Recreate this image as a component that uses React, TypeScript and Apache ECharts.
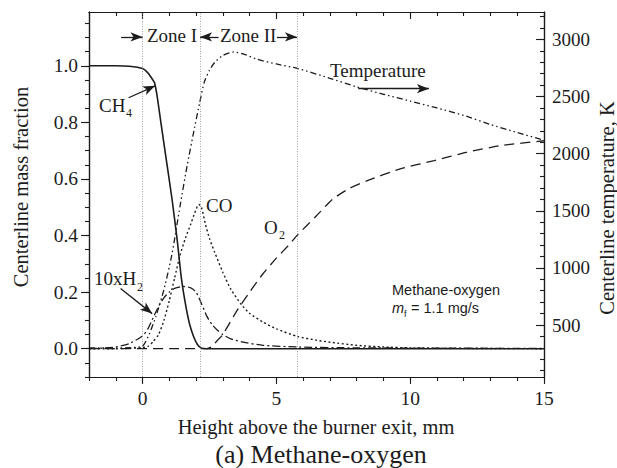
import React, { useEffect, useRef } from "react";
import * as echarts from "echarts";

// ---- axis ranges & ticks ----
const xRange = [-2, 15];
const leftRange = [-0.1, 1.19];
const rightRange = [45, 3240];
const xMajorTicks = [0, 5, 10, 15];
const xMinorTicks = [-2, -1, 0, 1, 2, 3, 4, 5, 6, 7, 8, 9, 10, 11, 12, 13, 14, 15];
const leftMajorTicks = [0, 0.2, 0.4, 0.6, 0.8, 1.0];
const leftMinorTicks = [-0.1, -0.05, 0, 0.05, 0.1, 0.15, 0.2, 0.25, 0.3, 0.35, 0.4, 0.45, 0.5, 0.55, 0.6, 0.65, 0.7, 0.75, 0.8, 0.85, 0.9, 0.95, 1.0, 1.05, 1.1, 1.15];
const rightMajorTicks = [500, 1000, 1500, 2000, 2500, 3000];
const rightMinorTicks = [100, 200, 300, 400, 500, 600, 700, 800, 900, 1000, 1100, 1200, 1300, 1400, 1500, 1600, 1700, 1800, 1900, 2000, 2100, 2200, 2300, 2400, 2500, 2600, 2700, 2800, 2900, 3000, 3100, 3200];

// ---- zone boundaries (mm) ----
const zoneLines = [0, 2.15, 5.77];

// ---- series: [height mm, value] ----
const ch4 = [
  [-2, 1], [-1, 1], [-0.5, 0.998], [0, 0.99], [0.2, 0.975], [0.35, 0.955], [0.45, 0.94], [0.55, 0.89],
  [0.7, 0.79], [0.9, 0.66], [1.1, 0.53], [1.3, 0.38], [1.45, 0.25], [1.6, 0.16], [1.75, 0.09],
  [1.9, 0.045], [2.05, 0.015], [2.2, 0.002], [2.4, 0], [15, 0],
];
const co = [
  [-2, 0], [-1, 0], [-0.5, 0.001], [0, 0.004], [0.2, 0.008], [0.4, 0.025], [0.6, 0.05], [0.8, 0.1],
  [1.0, 0.17], [1.2, 0.25], [1.4, 0.33], [1.6, 0.39], [1.8, 0.44], [1.95, 0.48], [2.1, 0.51],
  [2.2, 0.5], [2.35, 0.44], [2.5, 0.39], [2.7, 0.34], [3.0, 0.27], [3.3, 0.21], [3.7, 0.155],
  [4.0, 0.125], [4.5, 0.094], [5.0, 0.07], [5.8, 0.043], [6.5, 0.03], [7.0, 0.023], [8.0, 0.012],
  [9.0, 0.006], [10, 0.003], [12, 0.001], [15, 0],
];
const h2x10 = [
  [-2, 0], [-1.5, 0.002], [-1, 0.006], [-0.5, 0.018], [0, 0.045], [0.2, 0.07], [0.4, 0.11],
  [0.6, 0.15], [0.8, 0.18], [1.0, 0.2], [1.2, 0.213], [1.5, 0.22], [1.8, 0.215], [2.0, 0.2],
  [2.2, 0.16], [2.4, 0.115], [2.6, 0.085], [2.8, 0.065], [3.0, 0.05], [3.3, 0.035], [3.7, 0.024],
  [4.5, 0.012], [5.8, 0.006], [8, 0.003], [15, 0.001],
];
const o2 = [
  [-2, 0], [2.4, 0], [2.6, 0.008], [2.8, 0.03], [3.0, 0.05], [3.5, 0.13], [4.0, 0.2], [4.5, 0.265],
  [5.0, 0.32], [5.5, 0.37], [5.8, 0.403], [6.5, 0.47], [7.1, 0.528], [7.7, 0.565], [8.4, 0.594],
  [9.6, 0.635], [10.9, 0.665], [12.1, 0.694], [13.4, 0.718], [15, 0.735],
];
const temperature = [
  [-2, 300], [-1, 300], [-0.5, 302], [0, 315], [0.25, 420], [0.5, 575], [0.8, 810], [1.1, 1120],
  [1.4, 1540], [1.67, 1900], [1.92, 2200], [2.13, 2440], [2.3, 2620], [2.5, 2730], [2.7, 2800],
  [3.0, 2860], [3.4, 2890], [3.8, 2870], [4.3, 2825], [5.0, 2785], [5.8, 2745], [7, 2660],
  [8, 2585], [9, 2520], [10, 2460], [11, 2400], [12, 2335], [13, 2255], [14, 2185], [15, 2118],
];

// ---- annotation arrows in data coords: [[x1,y1],[x2,y2]] (tip at 2nd point) ----
const arrows = [
  [[-0.52, 0.887], [0.47, 0.929]],
  [[-0.82, 0.213], [0.36, 0.124]],
  [[8.06, 0.919], [10.7, 0.919]],
  [[-0.8, 1.102], [0, 1.102]],
  [[2.84, 1.102], [2.15, 1.102]],
  [[5.02, 1.102], [5.77, 1.102]],
];

const SERIF = '"Liberation Serif", "Times New Roman", serif';
const SANS = '"Liberation Sans", Arial, sans-serif';
const INK = "#1c1c1c";

function txt(text: string, x: number, y: number, size: number, extra: any = {}) {
  return {
    type: "text",
    x,
    y,
    silent: true,
    style: {
      text,
      fill: INK,
      fontSize: size,
      fontFamily: SERIF,
      textAlign: "left",
      textVerticalAlign: "middle",
      ...extra,
    },
  };
}

export default function App() {
  const ref = useRef<HTMLDivElement>(null);
  useEffect(() => {
    if (!ref.current) return;
    const chart = echarts.init(ref.current, null, { renderer: "svg" });
    const axisLine = { show: true, onZero: false, lineStyle: { color: INK, width: 1.2 } };
    const labelStyle = { color: INK, fontFamily: SERIF, fontSize: 19.5 };
    const baseX = {
      type: "value",
      min: xRange[0],
      max: xRange[1],
      splitLine: { show: false },
      axisLine,
    };
    const baseLeft = {
      type: "value",
      min: leftRange[0],
      max: leftRange[1],
      splitLine: { show: false },
      axisLine,
      position: "left",
    };
    const baseRight = {
      type: "value",
      min: rightRange[0],
      max: rightRange[1],
      splitLine: { show: false },
      axisLine,
      position: "right",
    };
    const tickStyle = { color: INK, width: 1.1 };

    const lineSeries = (name: string, data: number[][], dash: any, width: number, yAxisIndex = 0, z = 2) => ({
      name,
      type: "line",
      data,
      xAxisIndex: 0,
      yAxisIndex,
      showSymbol: false,
      smooth: 0.2,
      silent: true,
      z,
      lineStyle: { color: INK, width, type: dash },
    });

    const arrowLines = arrows.map((a) => [
      { coord: a[0], symbol: "none" },
      { coord: a[1], symbol: "arrow", symbolSize: [7, 12] },
    ]);

    const option: any = {
      animation: false,
      backgroundColor: "#ffffff",
      grid: { left: 89, right: 73, top: 12, bottom: 91, containLabel: false },
      xAxis: [
        {
          ...baseX,
          position: "bottom",
          axisTick: { show: true, inside: false, length: 7, lineStyle: tickStyle, customValues: xMajorTicks },
          axisLabel: { ...labelStyle, margin: 11, customValues: xMajorTicks, formatter: (v: number) => String(v) },
        },
        {
          ...baseX,
          position: "bottom",
          axisTick: { show: true, inside: false, length: 4, lineStyle: tickStyle, customValues: xMinorTicks },
          axisLabel: { show: false },
        },
        {
          ...baseX,
          position: "top",
          axisTick: { show: true, inside: true, length: 7, lineStyle: tickStyle, customValues: xMajorTicks },
          axisLabel: { show: false },
        },
        {
          ...baseX,
          position: "top",
          axisTick: { show: true, inside: true, length: 4, lineStyle: tickStyle, customValues: xMinorTicks },
          axisLabel: { show: false },
        },
      ],
      yAxis: [
        {
          ...baseLeft,
          axisTick: { show: true, inside: false, length: 8, lineStyle: tickStyle, customValues: leftMajorTicks },
          axisLabel: {
            ...labelStyle,
            margin: 11,
            customValues: leftMajorTicks,
            formatter: (v: number) => v.toFixed(1),
          },
        },
        {
          ...baseLeft,
          axisTick: { show: true, inside: false, length: 4, lineStyle: tickStyle, customValues: leftMinorTicks },
          axisLabel: { show: false },
        },
        {
          ...baseRight,
          axisTick: { show: true, inside: true, length: 8, lineStyle: tickStyle, customValues: rightMajorTicks },
          axisLabel: {
            ...labelStyle,
            fontSize: 19,
            margin: 8,
            customValues: rightMajorTicks,
            formatter: (v: number) => String(Math.round(v)),
          },
        },
        {
          ...baseRight,
          axisTick: { show: true, inside: true, length: 4, lineStyle: tickStyle, customValues: rightMinorTicks },
          axisLabel: { show: false },
        },
      ],
      series: [
        {
          ...lineSeries("O2", o2, [10, 6], 1.3, 0, 2),
          markLine: {
            silent: true,
            symbol: "none",
            label: { show: false },
            lineStyle: { color: "#8a8a8a", width: 0.8, type: [1, 1.5] },
            data: zoneLines.map((v) => ({ xAxis: v })),
          },
        },
        lineSeries("CO", co, [2, 2.5], 1.4, 0, 3),
        lineSeries("10xH2", h2x10, [8, 3, 2, 3], 1.3, 0, 3),
        lineSeries("Temperature", temperature, [6, 3, 1.5, 3, 1.5, 3], 1.3, 2, 3),
        {
          ...lineSeries("CH4", ch4, "solid", 1.6, 0, 4),
          markLine: {
            silent: true,
            label: { show: false },
            lineStyle: { color: INK, width: 1.3, type: "solid" },
            itemStyle: { color: INK },
            data: arrowLines,
          },
        },
      ],
      graphic: [
        txt("Zone I", 147, 35, 19),
        txt("Zone II", 220, 35, 19),
        txt("CH", 99, 105, 19),
        txt("4", 126, 113, 12),
        txt("CO", 206, 205, 19),
        txt("O", 264, 227, 19),
        txt("2", 279, 235, 12),
        txt("10xH", 94, 278, 19),
        txt("2", 137, 287, 12),
        txt("Temperature", 330, 70, 19),
        txt("Methane-oxygen", 392, 290, 14.5, { fontFamily: SANS }),
        txt("m", 392, 308, 14.5, { fontFamily: SANS, fontStyle: "italic" }),
        txt("f", 404, 314, 9, { fontFamily: SANS }),
        txt("= 1.1 mg/s", 411, 308, 14.5, { fontFamily: SANS }),
        txt("Height above the burner exit, mm", 316, 427, 20.5, { textAlign: "center" }),
        txt("(a) Methane-oxygen", 321, 454, 26, { textAlign: "center" }),
        {
          type: "text",
          x: 21,
          y: 187,
          rotation: Math.PI / 2,
          silent: true,
          style: {
            text: "Centerline mass fraction",
            fill: INK,
            fontSize: 20.5,
            fontFamily: SERIF,
            textAlign: "center",
            textVerticalAlign: "middle",
          },
        },
        {
          type: "text",
          x: 607,
          y: 208,
          rotation: Math.PI / 2,
          silent: true,
          style: {
            text: "Centerline temperature, K",
            fill: INK,
            fontSize: 20.5,
            fontFamily: SERIF,
            textAlign: "center",
            textVerticalAlign: "middle",
          },
        },
      ],
    };
    chart.setOption(option);
    return () => chart.dispose();
  }, []);
  return (
    <div
      ref={ref}
      style={{ position: "fixed", left: 0, top: 0, width: 617, height: 468, background: "#fff" }}
    />
  );
}
